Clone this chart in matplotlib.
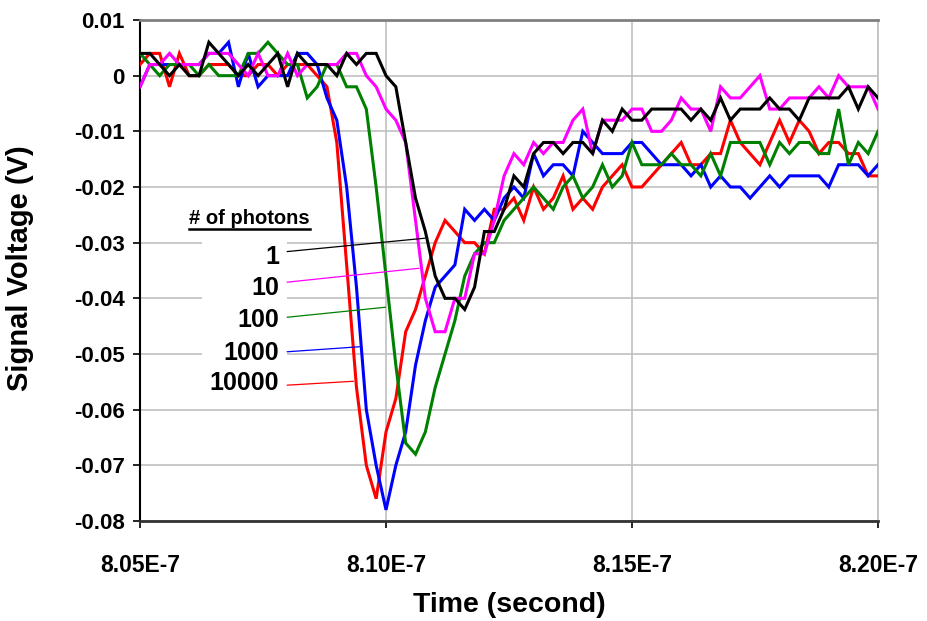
import numpy as np
import matplotlib
matplotlib.use('Agg')
from matplotlib import pyplot as plt
from matplotlib.patches import Rectangle
from matplotlib.lines import Line2D

plt.rcParams['font.family'] = ['Liberation Sans', 'DejaVu Sans']
plt.rcParams['font.weight'] = 'bold'

# Zeitachse: Abtastung alle 0.2 ns von 805 ns bis 820 ns
time_ns = np.arange(805.0, 820.01, 0.2)
time_s = time_ns * 1e-9

# Signalspannung (V) je Photonenzahl
v_10000 = [0.002, 0.004, 0.004, -0.002, 0.004, 0, 0, 0.002, 0.002, 0.002,
           0, 0, 0.002, 0.002, 0, 0.002, 0.002, 0.002, 0, -0.002,
           -0.012, -0.034, -0.056, -0.070, -0.076, -0.064, -0.058, -0.046, -0.042, -0.036,
           -0.030, -0.026, -0.028, -0.030, -0.030, -0.032, -0.024, -0.024, -0.022, -0.026,
           -0.020, -0.024, -0.022, -0.018, -0.024, -0.022, -0.024, -0.020, -0.018, -0.016,
           -0.020, -0.020, -0.018, -0.016, -0.014, -0.012, -0.016, -0.016, -0.014, -0.014,
           -0.008, -0.012, -0.014, -0.016, -0.012, -0.008, -0.012, -0.008, -0.010, -0.014,
           -0.012, -0.012, -0.014, -0.014, -0.018, -0.018]
v_1000 = [-0.002, 0.002, 0.002, 0.002, 0.002, 0.002, 0.002, 0.004, 0.004, 0.006,
          -0.002, 0.004, -0.002, 0, 0, 0, 0.004, 0.004, 0.002, -0.004,
          -0.008, -0.020, -0.038, -0.060, -0.070, -0.078, -0.070, -0.064, -0.052, -0.044,
          -0.038, -0.036, -0.034, -0.024, -0.026, -0.024, -0.026, -0.022, -0.020, -0.022,
          -0.014, -0.018, -0.016, -0.016, -0.018, -0.010, -0.012, -0.014, -0.014, -0.014,
          -0.012, -0.012, -0.014, -0.016, -0.016, -0.016, -0.018, -0.016, -0.020, -0.018,
          -0.020, -0.020, -0.022, -0.020, -0.018, -0.020, -0.018, -0.018, -0.018, -0.018,
          -0.020, -0.016, -0.016, -0.016, -0.018, -0.016]
v_100 = [0.004, 0.002, 0, 0.002, 0.002, 0.002, 0, 0.002, 0, 0,
         0, 0.004, 0.004, 0.006, 0.004, 0.002, 0.002, -0.004, -0.002, 0.002,
         0.002, -0.002, -0.002, -0.006, -0.020, -0.036, -0.052, -0.066, -0.068, -0.064,
         -0.056, -0.050, -0.044, -0.036, -0.032, -0.030, -0.030, -0.026, -0.024, -0.022,
         -0.020, -0.022, -0.024, -0.020, -0.018, -0.022, -0.020, -0.016, -0.020, -0.018,
         -0.012, -0.016, -0.016, -0.016, -0.014, -0.016, -0.016, -0.018, -0.014, -0.018,
         -0.012, -0.012, -0.012, -0.012, -0.016, -0.012, -0.014, -0.012, -0.012, -0.014,
         -0.014, -0.006, -0.016, -0.012, -0.014, -0.010]
v_10 = [-0.002, 0.002, 0.002, 0.004, 0.002, 0.002, 0.002, 0.004, 0.004, 0.004,
        0.002, 0, 0.004, 0, 0, 0.004, 0, 0.002, 0.002, 0.002,
        0.002, 0.004, 0.004, 0, -0.002, -0.006, -0.008, -0.012, -0.026, -0.040,
        -0.046, -0.046, -0.040, -0.040, -0.032, -0.032, -0.026, -0.018, -0.014, -0.016,
        -0.012, -0.014, -0.012, -0.012, -0.008, -0.006, -0.014, -0.008, -0.008, -0.008,
        -0.006, -0.006, -0.010, -0.010, -0.008, -0.004, -0.006, -0.006, -0.010, -0.002,
        -0.004, -0.004, -0.002, 0, -0.006, -0.006, -0.004, -0.004, -0.004, -0.002,
        -0.004, 0, -0.002, -0.002, -0.002, -0.006]
v_1 = [0.004, 0.004, 0.002, 0, 0.002, 0, 0, 0.006, 0.004, 0.002,
       0, 0.002, 0, 0.002, 0.004, -0.002, 0.004, 0.002, 0.002, 0.002,
       0, 0.004, 0.002, 0.004, 0.004, 0, -0.002, -0.012, -0.022, -0.028,
       -0.036, -0.040, -0.040, -0.042, -0.038, -0.028, -0.028, -0.024, -0.018, -0.020,
       -0.014, -0.012, -0.012, -0.014, -0.012, -0.012, -0.014, -0.008, -0.010, -0.006,
       -0.008, -0.008, -0.006, -0.006, -0.006, -0.006, -0.008, -0.006, -0.008, -0.004,
       -0.008, -0.006, -0.006, -0.006, -0.004, -0.006, -0.006, -0.008, -0.004, -0.004,
       -0.004, -0.004, -0.002, -0.006, -0.002, -0.004]

photon_labels = ['1', '10', '100', '1000', '10000']
series = [v_1, v_10, v_100, v_1000, v_10000]
colors = ['black', '#FF00FF', '#008000', '#0000FF', '#FF0000']

x_ticks = [8.05e-7, 8.10e-7, 8.15e-7, 8.20e-7]
x_ticklabels = ['8.05E-7', '8.10E-7', '8.15E-7', '8.20E-7']
y_ticks = [0.01, 0, -0.01, -0.02, -0.03, -0.04, -0.05, -0.06, -0.07, -0.08]
y_ticklabels = ['0.01', '0', '-0.01', '-0.02', '-0.03', '-0.04', '-0.05',
                '-0.06', '-0.07', '-0.08']

# Beschriftung: Textposition (Achsenanteil) und Hinweislinien (Daten)
label_y = [0.5275, 0.465, 0.401, 0.335, 0.2754]
line_start = [(8.0799e-7, -0.0316), (8.0799e-7, -0.0371), (8.0799e-7, -0.0434),
              (8.0799e-7, -0.0496), (8.0799e-7, -0.0556)]
line_end = [(8.1079e-7, -0.0292), (8.1067e-7, -0.0346), (8.0999e-7, -0.0416),
            (8.0946e-7, -0.0487), (8.0934e-7, -0.0549)]

fig = plt.figure(figsize=(9.27, 6.21), dpi=100)
ax = fig.add_axes([140 / 927, 100 / 621, 738 / 927, 501 / 621])

# rot zuerst, schwarz oben
for vals, c in reversed(list(zip(series, colors))):
    ax.plot(time_s, vals, color=c, lw=2.2, zorder=3, solid_joinstyle='miter')

ax.set_xlim(8.05e-7, 8.20e-7)
ax.set_ylim(-0.08, 0.01)
ax.set_xticks(x_ticks)
ax.set_xticklabels(x_ticklabels)
ax.set_yticks(y_ticks)
ax.set_yticklabels(y_ticklabels)
ax.grid(True, color='#c0c0c0', lw=1.2)
ax.set_axisbelow(True)

ax.tick_params(axis='x', direction='out', length=5, width=1.2, pad=19, labelsize=16.5)
ax.tick_params(axis='y', direction='out', length=5, width=1.2, pad=6, labelsize=16)
for lab in ax.get_xticklabels() + ax.get_yticklabels():
    lab.set_fontweight('bold')

ax.spines['left'].set_linewidth(1.5)
ax.spines['bottom'].set_linewidth(2)
ax.spines['bottom'].set_color('#333333')
ax.spines['top'].set_color('#808080')
ax.spines['top'].set_linewidth(2)
ax.spines['right'].set_color('#c0c0c0')
ax.spines['right'].set_linewidth(1.2)

ax.set_xlabel('Time (second)', fontsize=20.5, fontweight='bold', va='center')
ax.xaxis.set_label_coords(0.5, -0.168)
ax.set_ylabel('Signal Voltage (V)', fontsize=21, fontweight='bold', va='center')
ax.yaxis.set_label_coords(-0.163, 0.505)

# weisser Hintergrund hinter den Beschriftungen
ax.add_patch(Rectangle((0.084, 0.2415), 0.115, 0.33, transform=ax.transAxes,
                       facecolor='white', edgecolor='none', zorder=1))

title = ax.text(0.0664, 0.603, '# of photons', transform=ax.transAxes,
                ha='left', va='center', fontsize=14.5, fontweight='bold', zorder=4)

for lab, ly, p0, p1, c in zip(photon_labels, label_y, line_start, line_end, colors):
    ax.text(0.1883, ly, lab, transform=ax.transAxes, ha='right', va='center',
            fontsize=18, fontweight='bold', zorder=4)
    ax.annotate('', xy=p1, xytext=p0,
                arrowprops=dict(arrowstyle='-', color=c, lw=0.9,
                                shrinkA=0, shrinkB=0), zorder=4)

# Unterstreichung fuer "# of photons"
fig.canvas.draw()
bb = title.get_window_extent()
fig.add_artist(Line2D([bb.x0, bb.x1], [bb.y0 - 1, bb.y0 - 1], transform=None,
                      color='black', lw=1.8))

fig.savefig('out.png', dpi=100)
